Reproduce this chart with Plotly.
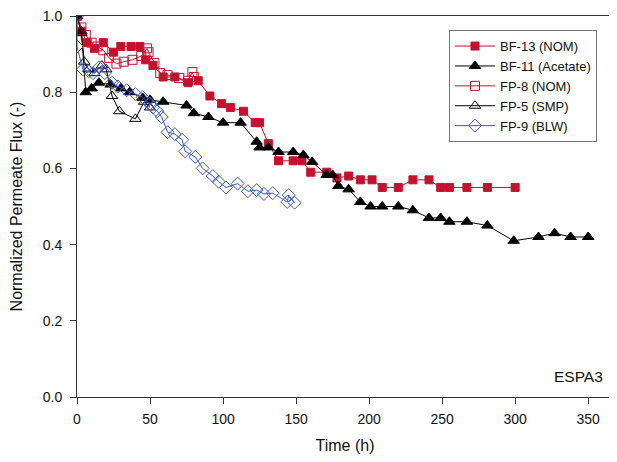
import plotly.graph_objects as go

# ---- data ----
bf13_t = [0, 3, 7, 12, 18, 25, 30, 37, 43, 47, 52, 59, 67, 76, 83, 91, 99, 105, 114, 122, 125,
          131, 138, 148, 154, 160, 171, 178, 186, 194, 202, 209, 220, 230, 241, 249, 255, 267, 281, 300]
bf13_y = [1.0, 0.96, 0.93, 0.915, 0.93, 0.905, 0.92, 0.92, 0.92, 0.885, 0.87, 0.84, 0.84, 0.825, 0.83,
          0.79, 0.77, 0.76, 0.75, 0.72, 0.72, 0.665, 0.62, 0.62, 0.62, 0.59, 0.59, 0.575, 0.58,
          0.57, 0.57, 0.55, 0.55, 0.57, 0.57, 0.55, 0.55, 0.55, 0.55, 0.55]

bf11_t = [0, 3, 6, 10, 15, 23, 30, 36, 45, 50, 59, 75, 80, 90, 100, 112, 123, 125, 131, 138, 148,
          155, 161, 171, 175, 179, 186, 194, 201, 209, 220, 230, 241, 249, 255, 267, 281, 299,
          316, 327, 338, 350]
bf11_y = [1.0, 0.96, 0.80, 0.81, 0.825, 0.82, 0.81, 0.80, 0.785, 0.78, 0.775, 0.765, 0.745, 0.735,
          0.72, 0.72, 0.67, 0.655, 0.655, 0.643, 0.643, 0.635, 0.617, 0.583, 0.583, 0.554, 0.545,
          0.512, 0.50, 0.50, 0.50, 0.49, 0.47, 0.47, 0.46, 0.46, 0.45, 0.41, 0.42, 0.43, 0.42, 0.42]

fp8_t = [0, 3, 6, 10, 14, 18, 22, 27, 32, 38, 44, 48, 49, 53, 57, 62, 70, 76, 79, 80]
fp8_y = [1.0, 0.97, 0.95, 0.93, 0.92, 0.91, 0.89, 0.875, 0.88, 0.885, 0.895, 0.915, 0.905, 0.877,
         0.85, 0.845, 0.837, 0.83, 0.853, 0.84]

fp5_t = [0, 3, 5, 8, 12, 17, 20, 24, 29, 40, 46, 50]
fp5_y = [1.0, 0.955, 0.88, 0.86, 0.85, 0.87, 0.86, 0.79, 0.75, 0.73, 0.775, 0.76]

fp9_t = [0, 0, 4, 8, 11, 15, 19, 24, 28, 34, 40, 45, 48, 50, 52, 55, 58, 62, 67, 72, 74, 81, 86,
         93, 97, 102, 110, 117, 123, 128, 134, 144, 145, 149]
fp9_y = [1.0, 0.92, 0.86, 0.855, 0.85, 0.865, 0.85, 0.825, 0.815, 0.805, 0.795, 0.787, 0.775, 0.77,
         0.76, 0.75, 0.735, 0.695, 0.69, 0.675, 0.645, 0.63, 0.60, 0.58, 0.565, 0.55, 0.56, 0.54,
         0.543, 0.533, 0.535, 0.512, 0.53, 0.51]

RED = "#c8102e"
BLUE = "#3b5cc4"
BLACK = "#000000"

fig = go.Figure()
fig.add_trace(go.Scatter(x=bf13_t, y=bf13_y, name="BF-13 (NOM)", mode="lines+markers",
                         line=dict(color=RED, width=1),
                         marker=dict(symbol="square", size=8, color=RED, line=dict(color=RED, width=1))))
fig.add_trace(go.Scatter(x=bf11_t, y=bf11_y, name="BF-11 (Acetate)", mode="lines+markers",
                         line=dict(color=BLACK, width=1),
                         marker=dict(symbol="triangle-up", size=10, color=BLACK, line=dict(color=BLACK, width=1))))
fig.add_trace(go.Scatter(x=fp8_t, y=fp8_y, name="FP-8 (NOM)", mode="lines+markers",
                         line=dict(color=RED, width=1),
                         marker=dict(symbol="square-open", size=9, color=RED, line=dict(color=RED, width=1))))
fig.add_trace(go.Scatter(x=fp5_t, y=fp5_y, name="FP-5 (SMP)", mode="lines+markers",
                         line=dict(color=BLACK, width=1),
                         marker=dict(symbol="triangle-up-open", size=10, color=BLACK, line=dict(color=BLACK, width=1))))
fig.add_trace(go.Scatter(x=fp9_t, y=fp9_y, name="FP-9 (BLW)", mode="lines+markers",
                         line=dict(color=BLUE, width=1),
                         marker=dict(symbol="diamond-open", size=10, color=BLUE, line=dict(color=BLUE, width=1))))

# page body has an 8px margin: size/margins compensate so the plot area sits at 77..613 x 16..397
fig.update_layout(
    width=609, height=454,
    margin=dict(l=69, r=4, t=8, b=65),
    paper_bgcolor="white", plot_bgcolor="white",
    font=dict(family="Liberation Sans, Arial, sans-serif", size=14, color="#111"),
    showlegend=True,
    legend=dict(x=0.694, y=0.963, xanchor="left", yanchor="top",
                bordercolor="#777", borderwidth=1, bgcolor="white",
                font=dict(size=13), tracegroupgap=0, itemwidth=40),
    xaxis=dict(range=[0, 367], tickvals=[0, 50, 100, 150, 200, 250, 300, 350],
               showline=True, linecolor="#333", linewidth=1, mirror=True, automargin=False,
               ticks="outside", ticklen=6, tickcolor="#333", showgrid=False, zeroline=False,
               ticklabelstandoff=3,
               title=dict(text="Time (h)", font=dict(size=16), standoff=14)),
    yaxis=dict(range=[0, 1.0], tickvals=[0, 0.2, 0.4, 0.6, 0.8, 1.0], tickformat=".1f",
               showline=True, linecolor="#333", linewidth=1, automargin=False,
               ticks="outside", ticklen=6, tickcolor="#333", showgrid=False, zeroline=False,
               ticklabelstandoff=5, ticklabeloverflow="allow",
               title=dict(text="Normalized Permeate Flux (-)", font=dict(size=16), standoff=22)),
    annotations=[dict(text="ESPA3", x=0.985, y=0.055, xref="paper", yref="paper",
                      xanchor="right", yanchor="middle", showarrow=False, font=dict(size=15.5))],
)

fig.write_html("out.html")
